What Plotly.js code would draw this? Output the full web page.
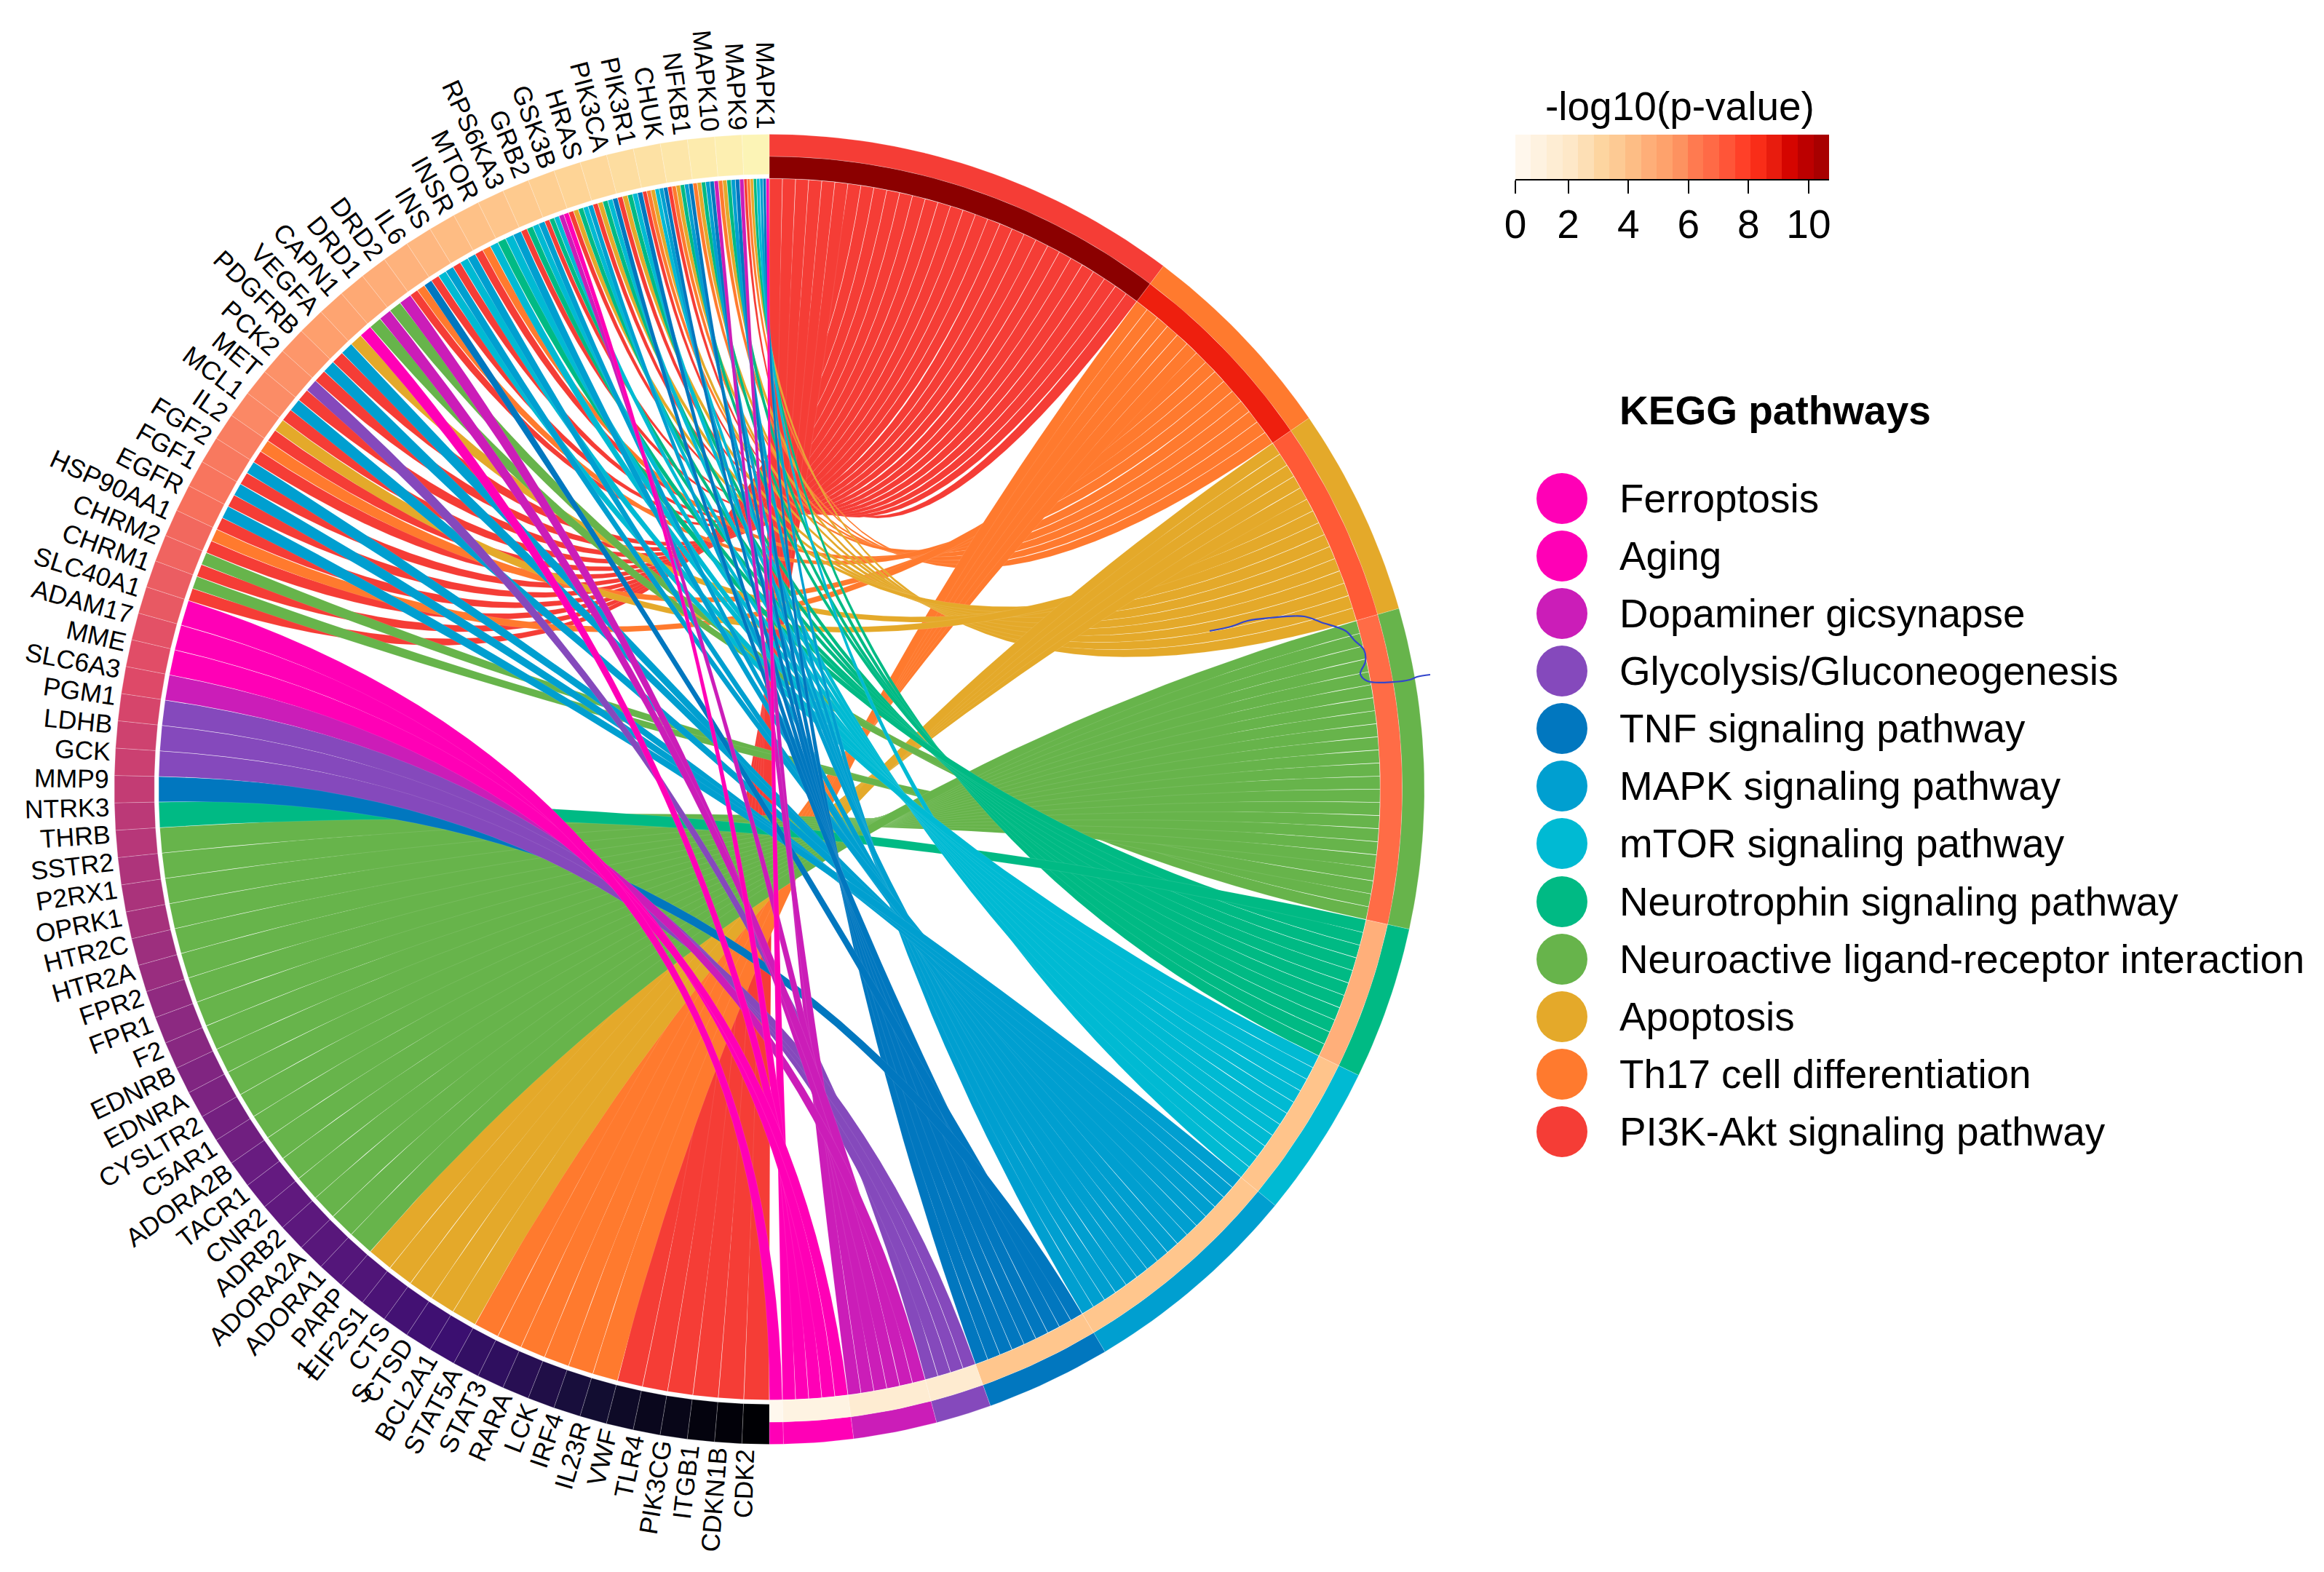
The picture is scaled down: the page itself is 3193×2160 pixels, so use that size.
<!DOCTYPE html>
<html>
<head>
<meta charset="utf-8">
<script src="https://cdn.plot.ly/plotly-3.0.1.min.js"></script>
<style>html,body{margin:0;padding:0;background:#fff}#chart{width:3193px;height:2160px}</style>
</head>
<body>
<div id="chart"></div>
<script>
// ---------- data ----------
const pathwayCodes = ["R","O","A","G","N","T","M","F","P","D","Ag","Fe"];
const pathwayNames = ["PI3K-Akt signaling pathway","Th17 cell differentiation","Apoptosis","Neuroactive ligand-receptor interaction","Neurotrophin signaling pathway","mTOR signaling pathway","MAPK signaling pathway","TNF signaling pathway","Glycolysis/Gluconeogenesis","Dopaminer gicsynapse","Aging","Ferroptosis"];
const pathwayColors = ["#F53D36","#FF7A2E","#E4A92A","#67B44B","#00BA84","#00BAD3","#009FD0","#0177BF","#8549BC","#CB1DB8","#FF00B6","#FF00B6"];
const pathwayPColors = ["#8B0000","#EE1F0E","#FF5A36","#FF6C46","#FFAF7A","#FFC48B","#FFC68D","#FFC68D","#FEEBD0","#FEECD2","#FEF3E2","#FFF8EE"];
const geneLabels = ["MAPK1","MAPK9","MAPK10","NFKB1","CHUK","PIK3R1","PIK3CA","HRAS","GSK3B","GRB2","RPS6KA3","MTOR","INSR","INS","IL6","DRD2","DRD1","CAPN1","VEGFA","PDGFRB","PCK2","MET","MCL1","IL2","FGF2","FGF1","EGFR","HSP90AA1","CHRM2","CHRM1","SLC40A1","ADAM17","MME","SLC6A3","PGM1","LDHB","GCK","MMP9","NTRK3","THRB","SSTR2","P2RX1","OPRK1","HTR2C","HTR2A","FPR2","FPR1","F2","EDNRB","EDNRA","CYSLTR2","C5AR1","ADORA2B","TACR1","CNR2","ADRB2","ADORA2A","ADORA1","PARP","EIF2S1","CTS","CTSD","BCL2A1","STAT5A","STAT3","RARA","LCK","IRF4","IL23R","VWF","TLR4","PIK3CG","ITGB1","CDKN1B","CDK2"];
const geneLinks = ["Ag F M T N A O R","D F M N A O","D F M N A O","F M N A O R","F M T A O R","F T N A R","F T N A R","M T N A R","Ag D T N R","M T N R","M T N","T O R","M T R","M T R","F O R","D G","D G","Ag A","M R","M R","P R","M R","A R","O R","M R","M R","M R","O R","G R","G R","Fe","Ag","Ag","D","P","P","P","F","N","G","G","G","G","G","G","G","G","G","G","G","G","G","G","G","G","G","G","G","A","A","A","A","A","O","O","O","O","O","O","R","R","R","R","R","R"];
const geneShades = [0.98,0.97,0.96,0.95,0.94,0.93,0.92,0.91,0.90,0.89,0.88,0.87,0.86,0.85,0.84,0.83,0.82,0.81,0.80,0.78,0.77,0.76,0.75,0.73,0.72,0.71,0.70,0.68,0.67,0.65,0.64,0.62,0.61,0.60,0.58,0.56,0.55,0.53,0.51,0.50,0.48,0.47,0.46,0.44,0.43,0.41,0.40,0.39,0.37,0.36,0.34,0.33,0.31,0.30,0.29,0.28,0.27,0.26,0.25,0.24,0.22,0.21,0.20,0.18,0.17,0.15,0.13,0.11,0.09,0.07,0.05,0.04,0.02,0.01,0.00];
const magmaStops = ["#000004","#140E36","#3B0F70","#641A80","#8C2981","#B73779","#DE4968","#F7705C","#FE9F6D","#FECF92","#FCFDBF"];
const barEdges = [0.24,0.76,1.28,1.81,2.33,2.85,3.37,3.89,4.42,4.94,5.46,5.98,6.50,7.03,7.55,8.07,8.59,9.11,9.64,10.16,10.68];
const barColors = ["#FFF7EC","#FEF2E0","#FEEDD3","#FEE8C8","#FDDFB5","#FDD5A0","#FDCA94","#FDBD85","#FEAE78","#FEA26C","#FD9260","#FF7A50","#FF6A46","#FF5538","#FF4028","#F92D18","#E81C0E","#D50500","#BC0000","#A80000"];
const barTicks = [0.24,2,4,6,8,10];
const barTickText = ["0","2","4","6","8","10"];
const strayLabels = [{t:"1",x:420,y:1881,a:-52},{t:"S",x:497,y:1914,a:-55}];
const penX = [1662,1691,1714,1745,1792,1815,1849,1861,1874,1876,1869,1879,1915,1937,1947,1965];
const penY = [867,861,853,849,847,855,867,880,893,909,926,936,937,934,930,927];
const legendOrder = [11,10,9,8,7,6,5,4,3,2,1,0];
const legendY = [685,764,843,922,1001,1080,1159,1239,1318,1397,1476,1555];

// ---------- geometry ----------
const CX = 1057, CY = 1084.5;
const R_OUT = 900, R_MID = 869.5, R_IN = 839.5, R_GENE = 845, R_RIB = 839, R_LABEL = 907;
const GENE_SPAN = 180 / geneLabels.length;
const LABEL_SHIFT = 0.85;
const GAP_GENE = 0.02, GAP_PATH = 0.02;
const rad = d => d * Math.PI / 180;
const pt = (r, a) => [CX + r * Math.sin(rad(a)), CY - r * Math.cos(rad(a))];

function hex(c){return [1,3,5].map(i=>parseInt(c.substr(i,2),16));}
function magma(t){
  const p=Math.min(0.9999,Math.max(0,t))*(magmaStops.length-1), i=Math.floor(p), f=p-i;
  const a=hex(magmaStops[i]), b=hex(magmaStops[i+1]);
  return "rgb("+a.map((v,k)=>Math.round(v+(b[k]-v)*f)).join(",")+")";
}
function arcPts(r,a0,a1,n){const o=[];for(let i=0;i<=n;i++)o.push(pt(r,a0+(a1-a0)*i/n));return o;}
function bez(a,b,n){ // quadratic curve with the circle centre as control point
  const o=[];
  for(let i=1;i<n;i++){const t=i/n,u=1-t;
    o.push([CX+u*u*(a[0]-CX)+t*t*(b[0]-CX),CY+u*u*(a[1]-CY)+t*t*(b[1]-CY)]);}
  return o;
}
function ringSector(a0,a1,r0,r1,color,lineColor){
  const n=Math.max(4,Math.ceil(Math.abs(a1-a0)));
  const p=arcPts(r0,a0,a1,n).concat(arcPts(r1,a1,a0,n));
  p.push(p[0]);
  return {type:"scatter",mode:"lines",x:p.map(v=>v[0]),y:p.map(v=>v[1]),fill:"toself",fillcolor:color,
    line:{color:lineColor||color,width:1},hoverinfo:"skip",showlegend:false};
}

// assign each link its arc on the gene side and on the pathway side
const links = [];
geneLinks.forEach((s,g)=>{const codes=s.split(" ");
  codes.forEach((c,i)=>links.push({g,p:pathwayCodes.indexOf(c),
    t0:(g+i/codes.length)*GENE_SPAN,t1:(g+(i+1)/codes.length)*GENE_SPAN}));});
const UNIT = 180/links.length;
let phi = 0;
const pathStart = [], pathEnd = [];
pathwayCodes.forEach((c,p)=>{
  pathStart[p]=phi;
  links.filter(l=>l.p===p).sort((a,b)=>b.t0-a.t0).forEach(l=>{l.f0=phi;phi+=UNIT;l.f1=phi;});
  pathEnd[p]=phi;
});

const traces = [];
pathwayCodes.forEach((c,p)=>{
  links.filter(l=>l.p===p).forEach(l=>{
    const t0=l.t0+GAP_GENE,t1=l.t1-GAP_GENE,f0=l.f0+GAP_PATH,f1=l.f1-GAP_PATH;
    const gHi=pt(R_RIB,-t1), gLo=pt(R_RIB,-t0), fLo=pt(R_RIB,f0), fHi=pt(R_RIB,f1);
    const poly=[].concat(arcPts(R_RIB,-t1,-t0,3),bez(gLo,fLo,36),arcPts(R_RIB,f0,f1,3),bez(fHi,gHi,36));
    poly.push(poly[0]);
    traces.push({type:"scatter",mode:"lines",x:poly.map(v=>v[0]),y:poly.map(v=>v[1]),fill:"toself",
      fillcolor:pathwayColors[p],line:{color:"rgba(255,255,255,0.10)",width:1},hoverinfo:"skip",showlegend:false});
  });
});
// outer rings
pathwayCodes.forEach((c,p)=>{
  traces.push(ringSector(pathStart[p],pathEnd[p],R_OUT,R_MID,pathwayColors[p],"rgba(255,255,255,0.2)"));
  traces.push(ringSector(pathStart[p],pathEnd[p],R_MID,R_IN,pathwayPColors[p],"rgba(255,255,255,0.2)"));
});
geneLabels.forEach((g,i)=>{
  traces.push(ringSector(-i*GENE_SPAN,-(i+1)*GENE_SPAN,R_OUT,R_GENE,magma(geneShades[i]),"rgba(255,255,255,0.22)"));
});
// stray pen mark present in the source figure
traces.push({type:"scatter",mode:"lines",x:penX,y:penY,line:{color:"#3346CC",width:2.2,shape:"spline"},hoverinfo:"skip",showlegend:false});
// legend dots
traces.push({type:"scatter",mode:"markers",x:legendOrder.map(()=>2146),y:legendY,
  marker:{size:70,color:legendOrder.map(i=>pathwayColors[i]),line:{width:0}},hoverinfo:"skip",showlegend:false});
// colour bar
const scale=[];barColors.forEach((c,i)=>{scale.push([i/barColors.length,c]);scale.push([(i+1)/barColors.length,c]);});
traces.push({type:"heatmap",xaxis:"x2",yaxis:"y2",x:barEdges,y:[0,1],z:[barColors.map((c,i)=>i+0.5)],
  zmin:0,zmax:barColors.length,colorscale:scale,showscale:false,hoverinfo:"skip"});

// text
const FONT='"Liberation Sans", Arial, sans-serif';
const ctx=document.createElement("canvas").getContext("2d");
const LABEL_SIZE=35.5;
ctx.font=LABEL_SIZE+'px "Liberation Sans"';
const ann=[];
geneLabels.forEach((g,i)=>{
  const th=(i+0.5)*GENE_SPAN-LABEL_SHIFT, w=ctx.measureText(g).width, c=pt(R_LABEL+w/2,-th);
  ann.push({x:c[0],y:c[1],text:g,textangle:90-th,showarrow:false,xanchor:"center",yanchor:"middle",borderpad:0,
    font:{family:FONT,size:LABEL_SIZE,color:"#000"}});
});
strayLabels.forEach(s=>ann.push({x:s.x,y:s.y,text:s.t,textangle:s.a,showarrow:false,xanchor:"center",yanchor:"middle",
  font:{family:FONT,size:LABEL_SIZE,color:"#000"}}));
legendOrder.forEach((p,i)=>ann.push({x:2223,y:legendY[i],text:pathwayNames[p],showarrow:false,xanchor:"left",yanchor:"middle",
  font:{family:FONT,size:54.8,color:"#000"}}));
ann.push({x:2223,y:564,text:"<b>KEGG pathways</b>",showarrow:false,xanchor:"left",yanchor:"middle",font:{family:FONT,size:55,color:"#000"}});
ann.push({x:2308,y:146,text:"-log10(p-value)",showarrow:false,xanchor:"center",yanchor:"middle",font:{family:FONT,size:55,color:"#000"}});

const W=3193,H=2160;
const layout={width:W,height:H,margin:{l:0,r:0,t:0,b:0},paper_bgcolor:"#fff",plot_bgcolor:"rgba(0,0,0,0)",showlegend:false,
  xaxis:{range:[0,W],domain:[0,1],visible:false,fixedrange:true},
  yaxis:{range:[H,0],domain:[0,1],visible:false,fixedrange:true},
  xaxis2:{anchor:"y2",domain:[2082/W,2513/W],range:[0.24,10.68],tickvals:barTicks,ticktext:barTickText,ticks:"outside",ticklen:18,tickwidth:2,
    tickcolor:"#000",showline:true,linecolor:"#000",linewidth:2,showgrid:false,zeroline:false,tickfont:{family:FONT,size:55,color:"#000"},ticklabelstandoff:-5,fixedrange:true},
  yaxis2:{anchor:"x2",domain:[1-246/H,1-185/H],range:[0,1],visible:false,fixedrange:true},
  annotations:ann};
Plotly.newPlot("chart",traces,layout,{staticPlot:true,displayModeBar:false});
</script>
</body>
</html>
